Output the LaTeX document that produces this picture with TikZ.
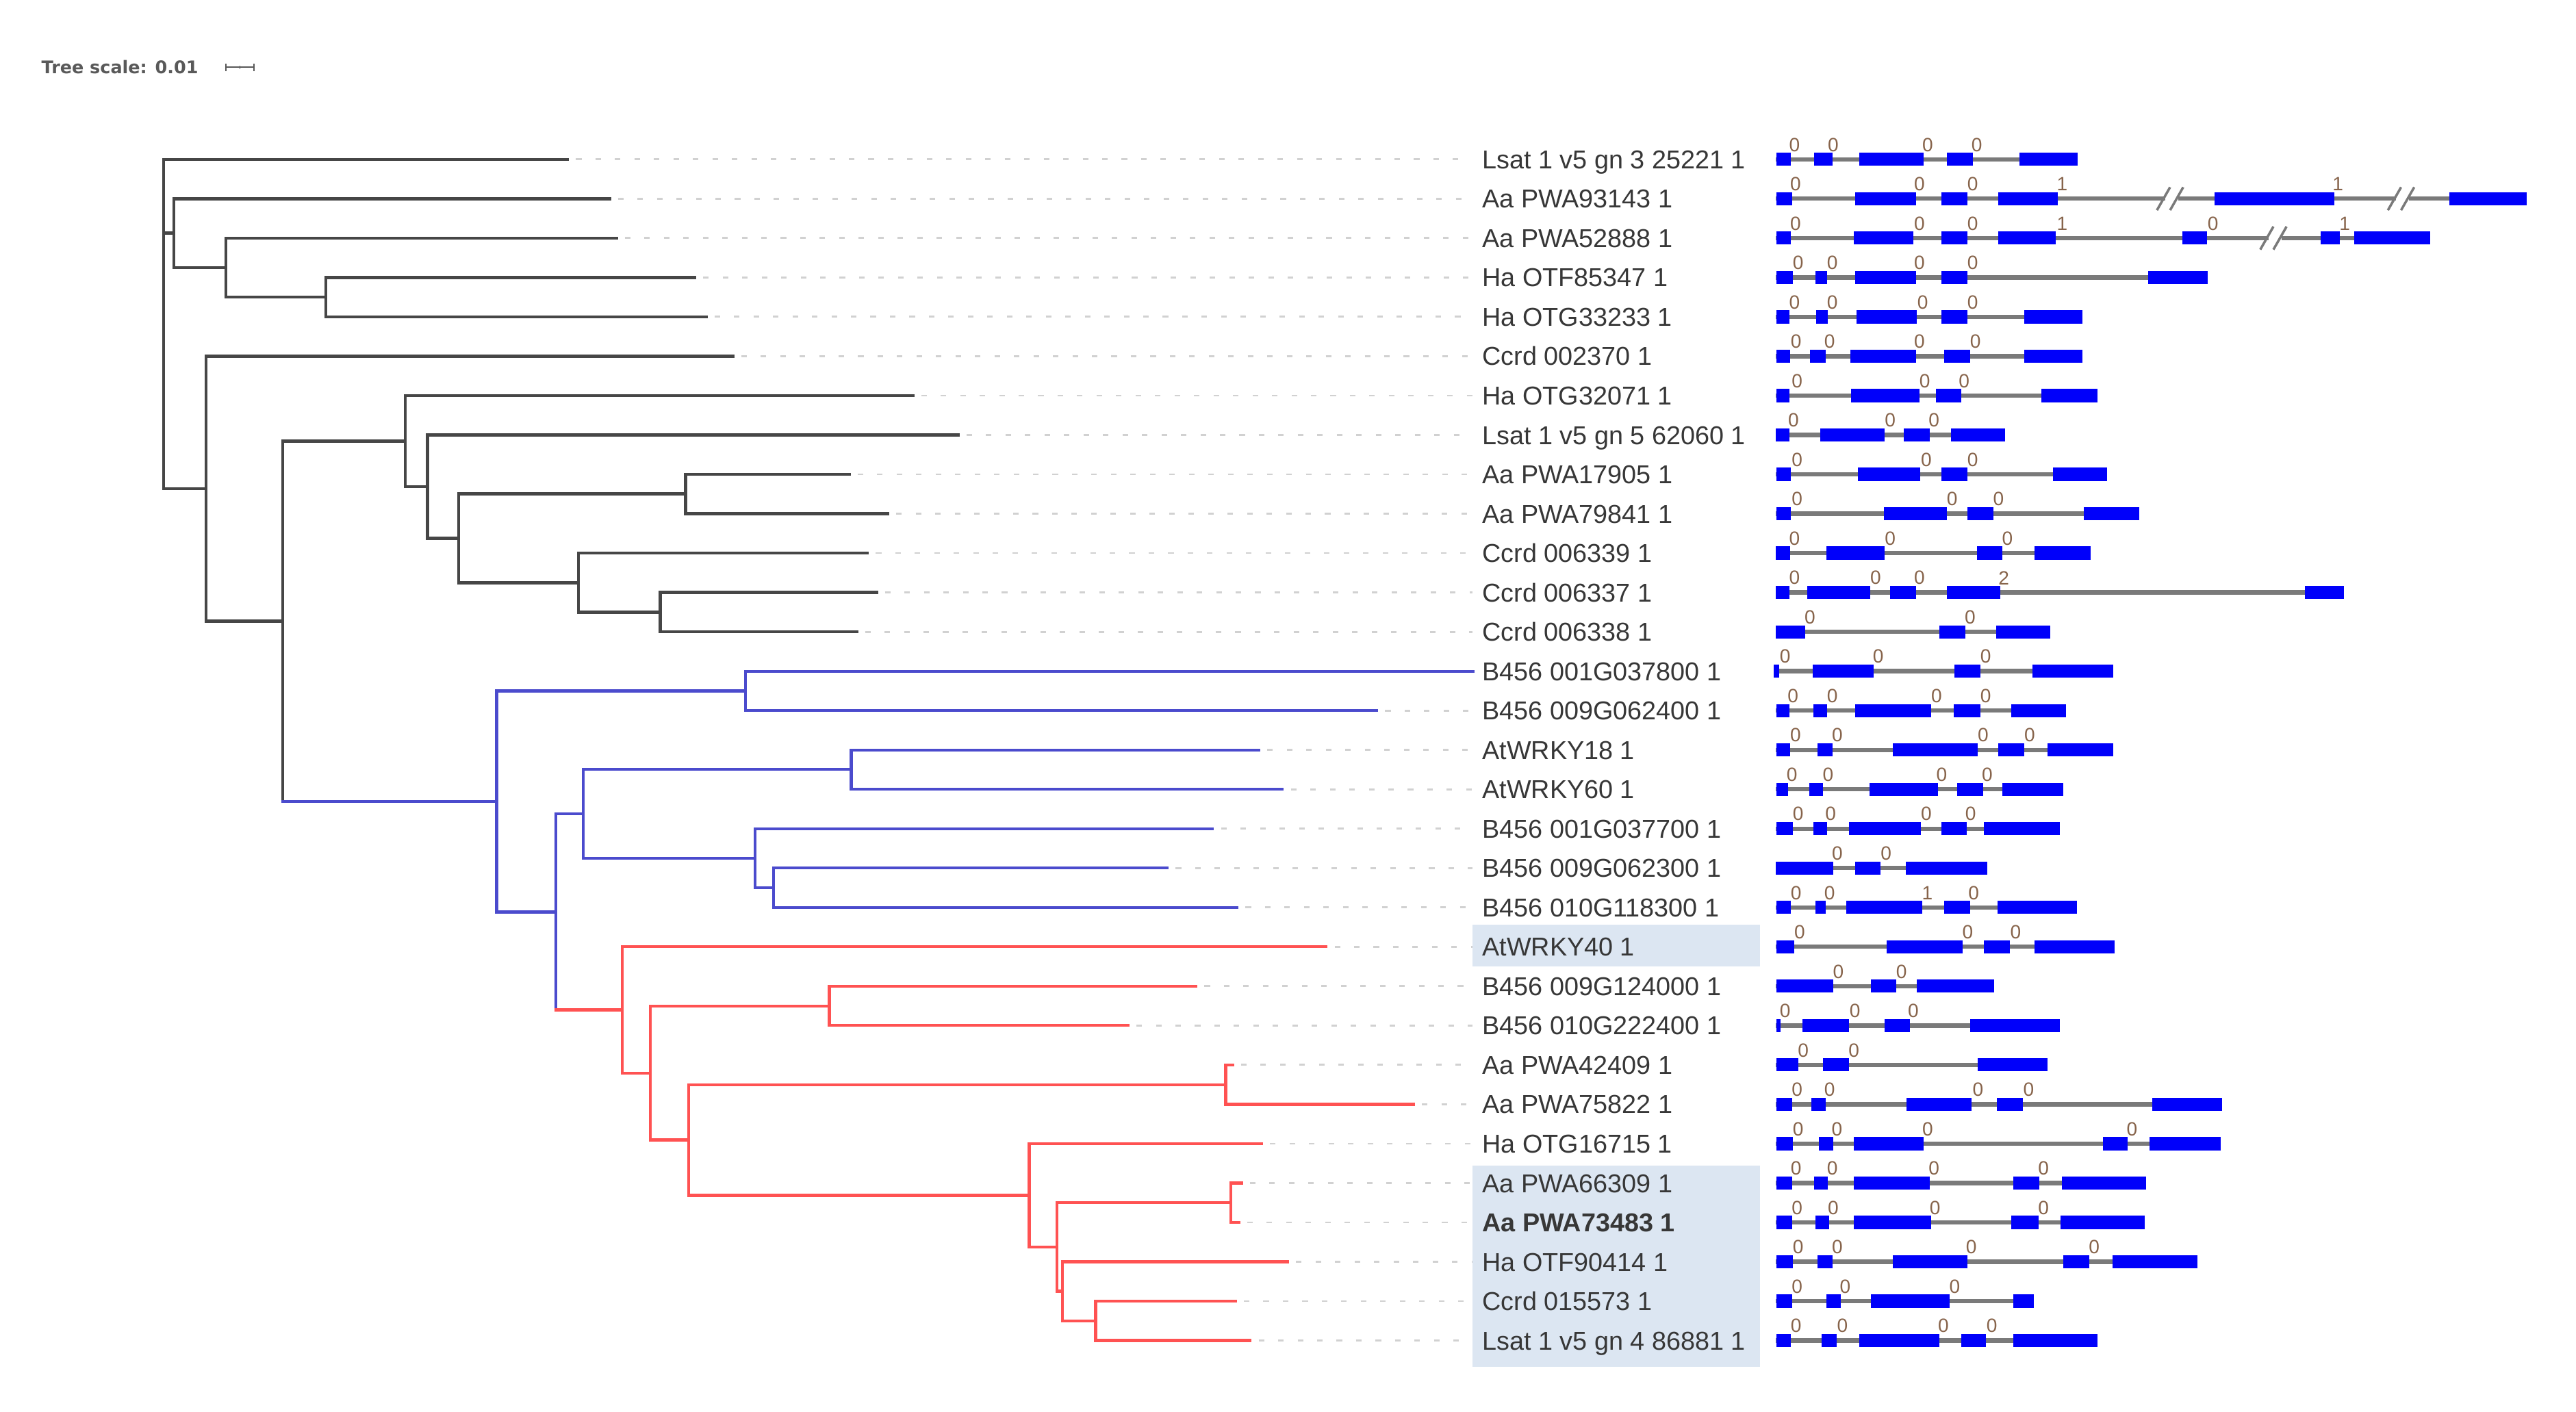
\documentclass[tikz,border=0pt]{standalone}
\usepackage{fontspec}
\setmainfont{Liberation Sans}
\newfontfamily\scalefont{DejaVu Sans}
\usepackage{tikz}
\usetikzlibrary{positioning}
\usetikzlibrary{arrows.meta}
\usetikzlibrary{calc}

\definecolor{branchblack}{RGB}{70,70,70}
\definecolor{branchblue}{RGB}{75,75,205}
\definecolor{branchred}{RGB}{255,82,82}
\definecolor{exonblue}{RGB}{0,0,250}
\definecolor{introngray}{RGB}{122,122,122}
\definecolor{cladeshade}{RGB}{220,230,242}
\definecolor{labelgray}{RGB}{55,55,55}
\definecolor{phasebrown}{RGB}{135,100,75}

\begin{document}
\begin{tikzpicture}[x=0.024cm, y=-0.024cm]
    \tikzstyle{blackedge}=[draw=branchblack, line width=1.3pt, line cap=rect]
    \tikzstyle{blueedge}=[draw=branchblue, line width=1.2pt, line cap=rect]
    \tikzstyle{rededge}=[draw=branchred, line width=1.2pt, line cap=rect]
    \tikzstyle{leader}=[draw=black!18, line width=0.8pt,
            dash pattern=on 2.3pt off 5.8pt, shorten <=3.5pt, shorten >=4pt]
    \tikzstyle{taxon}=[anchor=west, inner sep=0pt, text=labelgray,
            font=\fontsize{10.75}{12}\selectfont, text height=7.7pt, text depth=0pt]
    \tikzstyle{exon}=[fill=exonblue]
    \tikzstyle{intron}=[draw=introngray, line width=1.8pt]
    \tikzstyle{phase}=[anchor=south, inner sep=0pt, text=phasebrown,
            font=\fontsize{8}{8}\selectfont]
    \tikzstyle{cut}=[draw=introngray, line width=1pt]

    \useasboundingbox (0,0) rectangle (1568,859.6);

    % shaded clade labels
    \fill[cladeshade] (896.3,562.9) rectangle (1071.3,588.3);
    \fill[cladeshade] (896.3,709.5) rectangle (1071.3,832.2);

        \foreach \t/\x in {0/345.5, 1/371, 2/375.2, 3/422.9, 4/429.8, 5/446,
            6/555.6, 7/583.2, 8/516.9, 9/540.4, 10/528, 11/533.5, 12/521.4,
            13/896.5, 14/838, 15/766.3, 16/780.6, 17/738.1, 18/710.5, 19/753,
            20/807.2, 21/728, 22/686.6, 23/750.3, 24/860.4, 25/767.9,
            26/755.7, 27/754, 28/783.8, 29/752, 30/761}
        {
            \coordinate (t\t) at (\x,{97+23.97*\t});
        }

        \coordinate (root) at (99.5,97);
        \coordinate (nA) at (105.8,141.9);
        \coordinate (nC) at (137.5,162.9);
        \coordinate (nD) at (198.4,180.9);
        \coordinate (nB) at (125.5,297.5);
        \coordinate (nE) at (172.1,378.2);
        \coordinate (nF) at (246.7,268.5);
        \coordinate (nH) at (260.2,296.2);
        \coordinate (nI) at (279.2,327.7);
        \coordinate (nJ) at (417.4,300.75);
        \coordinate (nK) at (352.1,354.7);
        \coordinate (nL) at (401.8,372.7);
        \coordinate (nG) at (302.3,487.9);
        \coordinate (nM) at (453.8,420.6);
        \coordinate (nN) at (338.4,555.2);
        \coordinate (nO) at (354.9,495.5);
        \coordinate (nQ) at (518.1,468.5);
        \coordinate (nR) at (459.6,522.5);
        \coordinate (nS) at (470.8,540.4);
        \coordinate (nP) at (378.8,614.8);
        \coordinate (nT) at (395.8,653.2);
        \coordinate (nU) at (504.8,612.4);
        \coordinate (nV) at (419.2,694);
        \coordinate (nW) at (746.1,660.3);
        \coordinate (nX) at (626.5,727.7);
        \coordinate (nY) at (643.5,759.2);
        \coordinate (nZ) at (749.3,732.2);
        \coordinate (nAA) at (646.7,786.1);
        \coordinate (nAB) at (666.9,804.1);

        \foreach \p/\c in {root/t0, root/nA, root/nB, nA/t1, nA/nC, nC/t2,
            nC/nD, nD/t3, nD/t4, nB/t5, nB/nE, nE/nF, nF/t6, nF/nH, nH/t7,
            nH/nI, nI/nJ, nI/nK, nJ/t8, nJ/t9, nK/t10, nK/nL, nL/t11, nL/t12}
        {
            \draw[blackedge] (\p) |- (\c);
        }
        \draw[blackedge] (nE) -- (nE |- nG);
        \draw[blueedge] (nE |- nG) -- (nG);

        \foreach \p/\c in {nG/nM, nG/nN, nM/t13, nM/t14, nN/nO, nO/nQ,
            nO/nR, nQ/t15, nQ/t16, nR/t17, nR/nS, nS/t18, nS/t19}
        {
            \draw[blueedge] (\p) |- (\c);
        }
        \draw[blueedge] (nN) -- (nN |- nP);
        \draw[rededge] (nN |- nP) -- (nP);

        \foreach \p/\c in {nP/t20, nP/nT, nT/nU, nT/nV, nU/t21, nU/t22,
            nV/nW, nV/nX, nW/t23, nW/t24, nX/t25, nX/nY, nY/nZ, nY/nAA,
            nZ/t26, nZ/t27, nAA/t28, nAA/nAB, nAB/t29, nAB/t30}
        {
            \draw[rededge] (\p) |- (\c);
        }

        \foreach \name [count=\t from 0] in {Lsat 1 v5 gn 3 25221 1,
            Aa PWA93143 1, Aa PWA52888 1, Ha OTF85347 1, Ha OTG33233 1,
            Ccrd 002370 1, Ha OTG32071 1, Lsat 1 v5 gn 5 62060 1,
            Aa PWA17905 1, Aa PWA79841 1, Ccrd 006339 1, Ccrd 006337 1,
            Ccrd 006338 1, B456 001G037800 1, B456 009G062400 1,
            AtWRKY18 1, AtWRKY60 1, B456 001G037700 1, B456 009G062300 1,
            B456 010G118300 1, AtWRKY40 1, B456 009G124000 1,
            B456 010G222400 1, Aa PWA42409 1, Aa PWA75822 1, Ha OTG16715 1,
            Aa PWA66309 1, {\textbf{Aa PWA73483 1}}, Ha OTF90414 1,
            Ccrd 015573 1, Lsat 1 v5 gn 4 86881 1}
        {
            \node[taxon] (l\t) at (902,{97+23.97*\t}) {\name};
        }

        \foreach \t in {0,...,12,14,15,...,30}
        {
            \draw[leader] (t\t) -- (l\t);
        }

        % gene structures: row / gene end / exons / intron phases
        \foreach \r/\ge/\ex/\mk in {
            0/1264.6/{1081.3/1090.1, 1104.2/1115.3, 1131.6/1170.9, 1185.1/1200.8, 1229.1/1264.6}/{1092.3/0, 1115.9/0, 1173.4/0, 1203.3/0},
            1/1538/{1081.3/1090.7, 1129.1/1166.2, 1181.9/1197.7, 1216.5/1252.7, 1348/1421, 1491/1538}/{1092.9/0, 1168.4/0, 1200.8/0, 1255.2/1, 1423.1/1},
            2/1479.1/{1081.3/1090.1, 1128.5/1164.6, 1181.9/1197.7, 1216.5/1251.1, 1328.2/1343.3, 1412.5/1424.1, 1432.9/1479.1}/{1092.9/0, 1168.4/0, 1200.8/0, 1255.2/1, 1347/0, 1427.2/1},
            3/1343.9/{1081.3/1091.4, 1104.9/1112.1, 1129.1/1166.2, 1181.9/1197.7, 1307.7/1343.9}/{1094.5/0, 1115.3/0, 1168.4/0, 1200.8/0},
            4/1267.5/{1081.3/1089.2, 1105.5/1112.7, 1130/1166.8, 1181.9/1197.7, 1232.3/1267.5}/{1092.3/0, 1115.3/0, 1170.3/0, 1200.8/0},
            5/1267.5/{1081.3/1089.8, 1101.7/1111.2, 1126.3/1166.2, 1183.5/1199.2, 1232.3/1267.5}/{1093.2/0, 1113.7/0, 1168.4/0, 1202.4/0},
            6/1276.9/{1081.3/1089.2, 1126.9/1168.4, 1178.2/1193.6, 1242.6/1276.9}/{1093.9/0, 1171.6/0, 1195.5/0},
            7/1220.6/{1080.7/1089.2, 1108/1147.3, 1159/1174.7, 1187.6/1220.6}/{1091.7/0, 1150.5/0, 1177.2/0},
            8/1282.6/{1081.3/1090.1, 1130.7/1168.7, 1181.9/1197.7, 1249.5/1282.6}/{1093.9/0, 1172.5/0, 1200.8/0},
            9/1302.1/{1081.3/1090.1, 1146.7/1185.1, 1197.7/1213.4, 1268.4/1302.1}/{1093.9/0, 1188.2/0, 1216.5/0},
            10/1272.5/{1080.7/1089.8, 1111.8/1147.3, 1203.3/1219, 1238.5/1272.5}/{1092.3/0, 1150.5/0, 1221.9/0},
            11/1426.6/{1080.7/1089.2, 1100.2/1138.5, 1150.5/1166.2, 1185.1/1217.5, 1403/1426.6}/{1092.3/0, 1141.7/0, 1168.4/0, 1219.7/2},
            12/1248/{1080.7/1098.6, 1180.4/1196.1, 1215/1248}/{1101.7/0, 1199.2/0},
            13/1286.3/{1079.7/1082.9, 1103.3/1140.4, 1189.8/1205.5, 1237/1286.3}/{1086.6/0, 1143.2/0, 1208.7/0},
            14/1257.4/{1081.3/1089.2, 1103.9/1112.1, 1129.4/1175.6, 1189.2/1205.5, 1224.4/1257.4}/{1091.4/0, 1115.3/0, 1178.8/0, 1208.7/0},
            15/1286.3/{1081.3/1089.8, 1106.5/1115.3, 1152.1/1204, 1216.5/1232.3, 1246.4/1286.3}/{1092.9/0, 1118.4/0, 1207.1/0, 1235.4/0},
            16/1255.8/{1081.3/1088.2, 1101.1/1109.6, 1137.9/1179.7, 1191.4/1207.1, 1219/1255.8}/{1090.7/0, 1112.7/0, 1181.9/0, 1209.6/0},
            17/1253.6/{1081.3/1091.4, 1103.9/1112.1, 1125.3/1169.4, 1181.9/1197, 1207.7/1253.6}/{1094.5/0, 1114.3/0, 1172.5/0, 1199.5/0},
            18/1209.6/{1080.7/1115.9, 1129.4/1144.8, 1159.9/1209.6}/{1118.4/0, 1148/0},
            19/1264.3/{1081.3/1090.1, 1104.9/1111.2, 1123.7/1170, 1183.5/1199.2, 1215.9/1264.3}/{1093.2/0, 1113.7/0, 1173.1/1, 1201.4/0},
            20/1287.3/{1081.3/1092.3, 1148.3/1194.5, 1207.7/1223.4, 1238.5/1287.3}/{1095.4/0, 1197.7/0, 1226.9/0},
            21/1214/{1081.3/1115.9, 1138.8/1154.3, 1166.8/1214}/{1119/0, 1157.4/0},
            22/1253.6/{1081.3/1083.8, 1097/1125.3, 1147.3/1162.4, 1199.2/1253.6}/{1086.6/0, 1129.1/0, 1164.6/0},
            23/1246.4/{1081.3/1094.5, 1109.6/1125.3, 1204/1246.4}/{1097.6/0, 1128.5/0},
            24/1352.4/{1081.3/1090.7, 1102.4/1111.2, 1160.5/1200.2, 1215.6/1231.3, 1310.2/1352.4}/{1093.9/0, 1113.7/0, 1204/0, 1234.8/0},
            25/1351.8/{1081.3/1091.4, 1107.1/1115.9, 1128.5/1170.9, 1280.1/1295.2, 1308.4/1351.8}/{1094.5/0, 1118.1/0, 1173.4/0, 1297.7/0},
            26/1306.2/{1081.3/1090.7, 1104.2/1112.7, 1128.5/1174.7, 1225.3/1241.1, 1254.9/1306.2}/{1093.2/0, 1115.3/0, 1177.2/0, 1243.9/0},
            27/1305.5/{1081.3/1090.7, 1104.9/1113.4, 1128.5/1175.6, 1224.4/1240.7, 1254.3/1305.5}/{1093.9/0, 1115.9/0, 1177.8/0, 1243.9/0},
            28/1337.6/{1081.3/1091.4, 1106.5/1115.3, 1152.1/1197.7, 1255.8/1271.6, 1285.7/1337.6}/{1094.5/0, 1118.4/0, 1199.9/0, 1274.7/0},
            29/1237.9/{1081.3/1090.7, 1111.8/1120.6, 1138.8/1186.6, 1225.3/1237.9}/{1093.9/0, 1123.1/0, 1189.8/0},
            30/1276.9/{1081.3/1090.1, 1109/1118.1, 1131.6/1180.4, 1193.6/1208.7, 1225.3/1276.9}/{1093.2/0, 1121.5/0, 1182.9/0, 1212.4/0}}
        {
            \pgfmathsetmacro{\yy}{97+23.97*\r}
            \draw[intron] (1081,\yy) -- (\ge,\yy);
            \foreach \a/\b in \ex
            {
                \fill[exon] (\a,\yy-4) rectangle (\b,\yy+4);
            }
            \foreach \m/\d [count=\k] in \mk
            {
                \node[phase] (ph\r-\k) at (\m,\yy-4.5) {\d};
            }
        }

        \foreach \r/\bx in {1/1321.9, 1/1462.5, 2/1384.8}
        {
            \pgfmathsetmacro{\yy}{97+23.97*\r}
            \fill[white] (\bx-4,\yy-2) rectangle (\bx+4,\yy+2);
            \draw[cut] (\bx-9,\yy+7) -- (\bx-1,\yy-7);
            \draw[cut] (\bx-1,\yy+7) -- (\bx+7,\yy-7);
        }

        \node[anchor=west, inner sep=0pt, text=black!65,
            font=\scalefont\bfseries\fontsize{7.25}{8}\selectfont]
            (treescale) at (25,41) {Tree scale: 0.01};
        \coordinate (barL) at (137,41);
        \coordinate (barR) at (155,41);
        \draw[black!65, line width=0.6pt, {Bar[width=3pt]}-{Bar[width=3pt]}]
            (barL) -- (barR);
        \draw[black!65, line width=0.5pt] ($(barL)!0.5!(barR)+(0,-1.2)$) --
            ($(barL)!0.5!(barR)+(0,1.2)$);
    \end{tikzpicture}
\end{document}
